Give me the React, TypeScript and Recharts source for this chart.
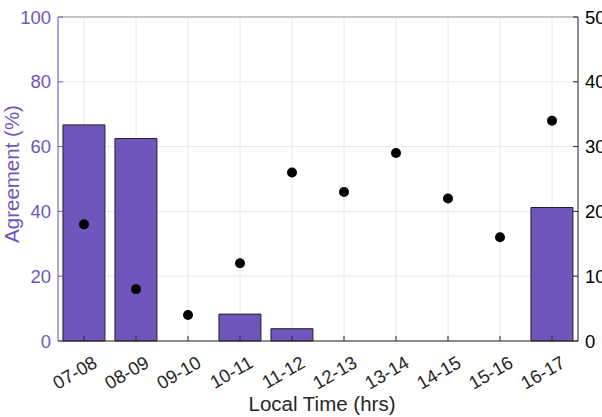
import { ComposedChart, Bar, Scatter, XAxis, YAxis, CartesianGrid, ReferenceLine } from "recharts";

const hours = ["07-08", "08-09", "09-10", "10-11", "11-12", "12-13", "13-14", "14-15", "15-16", "16-17"];
const agreement = [66.7, 62.5, 0, 8.3, 3.8, 0, 0, 0, 0, 41.2];
const counts = [18, 8, 4, 12, 26, 23, 29, 22, 16, 34];
const leftTicks = [0, 20, 40, 60, 80, 100];
const rightTicks = [0, 10, 20, 30, 40, 50];

const data = hours.map((h, i) => ({ hour: h, agreement: agreement[i], count: counts[i] }));

const PURPLE = "#7055bd";
const FONT = "'Liberation Sans', Arial, sans-serif";

const XTick = (props: any) => {
  const { x, payload } = props;
  const tx = x + 8;
  const ty = 355;
  return (
    <g>
      <line x1={x} y1={341} x2={x} y2={336} stroke="#262626" />
      <text
        x={tx}
        y={ty}
        textAnchor="end"
        fontSize={18.5}
        fontFamily={FONT}
        fill="#262626"
        transform={`rotate(-30 ${tx} ${ty})`}
        dy={13}
      >
        {payload.value}
      </text>
    </g>
  );
};

const LeftTick = (props: any) => {
  const { y, payload } = props;
  return (
    <g>
      <line x1={58} y1={y} x2={63} y2={y} stroke={PURPLE} />
      <text x={51} y={y + 6.5} textAnchor="end" fontSize={18.5} fontFamily={FONT} fill={PURPLE}>
        {payload.value}
      </text>
    </g>
  );
};

const RightTick = (props: any) => {
  const { y, payload } = props;
  return (
    <g>
      <line x1={578} y1={y} x2={573} y2={y} stroke="#262626" />
      <text x={585} y={y + 6.5} textAnchor="start" fontSize={18.5} fontFamily={FONT} fill="#000">
        {payload.value}
      </text>
    </g>
  );
};

const LeftLabel = () => (
  <text
    transform="translate(19 174) rotate(-90)"
    textAnchor="middle"
    fontSize={20.5}
    fontFamily={FONT}
    fill={PURPLE}
  >
    Agreement (%)
  </text>
);

const BottomLabel = () => (
  <text x={322} y={411} textAnchor="middle" fontSize={20.5} fontFamily={FONT} fill="#262626">
    Local Time (hrs)
  </text>
);

export default function App() {
  return (
    <div style={{ position: "absolute", left: 0, top: 0, background: "#fff" }}>
      <ComposedChart
        width={602}
        height={417}
        data={data}
        margin={{ top: 17, right: 0, bottom: 0, left: 0 }}
        barCategoryGap="9.5%"
      >
        <CartesianGrid stroke="#e8e8e8" yAxisId="left" />
        <XAxis
          dataKey="hour"
          height={76}
          stroke="#262626"
          tickLine={false}
          tick={<XTick />}
          interval={0}
          label={<BottomLabel />}
        />
        <YAxis
          yAxisId="left"
          domain={[0, 100]}
          ticks={leftTicks}
          width={58}
          stroke={PURPLE}
          tickLine={false}
          tick={<LeftTick />}
          label={<LeftLabel />}
        />
        <YAxis
          yAxisId="right"
          orientation="right"
          domain={[0, 50]}
          ticks={rightTicks}
          width={24}
          stroke="#262626"
          tickLine={false}
          tick={<RightTick />}
        />
        <ReferenceLine yAxisId="left" y={100} stroke="#999" />
        <Bar yAxisId="left" dataKey="agreement" fill={PURPLE} stroke="#222" strokeWidth={1} isAnimationActive={false} />
        <Scatter yAxisId="right" dataKey="count" fill="#000" isAnimationActive={false} shape={(p: any) => <circle cx={p.cx} cy={p.cy} r={5} fill="#000" />} />
      </ComposedChart>
    </div>
  );
}
